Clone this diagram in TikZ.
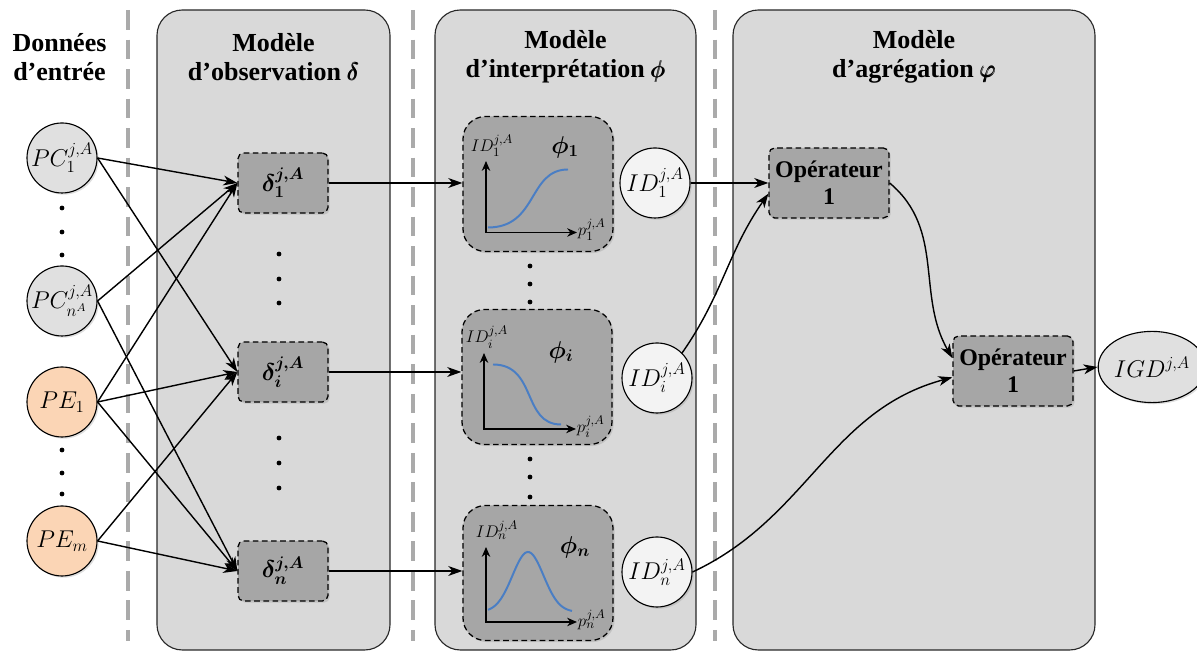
\documentclass[tikz,border=0pt]{standalone}
\usepackage{fontspec}
\setmainfont{Liberation Serif}
\usepackage{amsmath}
\usepackage{tikz}
\usetikzlibrary{shapes.geometric, arrows.meta, positioning, calc, shadows}
\definecolor{panelgray}{RGB}{217,217,217}
\definecolor{boxgray}{RGB}{166,166,166}
\definecolor{sepgray}{RGB}{170,170,170}
\definecolor{circgray}{RGB}{224,224,224}
\definecolor{idwhite}{RGB}{243,243,243}
\definecolor{peorange}{RGB}{251,213,181}
\definecolor{curveblue}{RGB}{74,126,196}
\definecolor{edgedark}{RGB}{40,40,40}
\newcommand{\bsym}[1]{$\pmb{#1}$}
\tikzset{
  panel/.style={draw=edgedark, fill=panelgray, rounded corners=18pt, line width=0.8pt},
  separator/.style={sepgray, line width=2.5pt, dash pattern=on 14pt off 7pt},
  titletext/.style={font=\fontsize{18.5}{20.6}\selectfont\bfseries, align=center},
  softshadow/.style={drop shadow={opacity=0.25, shadow xshift=1.2pt, shadow yshift=-1.2pt}},
  incirc/.style={circle, draw=black, fill=circgray, minimum size=1.75cm, inner sep=0pt,
    line width=0.8pt, font=\fontsize{16.5}{18}\selectfont, softshadow},
  pecirc/.style={incirc, fill=peorange},
  idcirc/.style={incirc, fill=idwhite},
  igdell/.style={ellipse, draw=black, fill=circgray, minimum width=2.15cm, minimum height=1.78cm,
    inner sep=0pt, line width=0.8pt, font=\fontsize{16.5}{18}\selectfont, softshadow},
  obsbox/.style={rectangle, draw=black, fill=boxgray, dash pattern=on 4pt off 2.5pt,
    rounded corners=4pt, minimum width=2.25cm, minimum height=1.5cm, line width=0.9pt,
    font=\fontsize{17}{20}\selectfont\boldmath, softshadow},
  interbox/.style={obsbox, minimum width=3.75cm, minimum height=3.375cm, rounded corners=16pt},
  opbox/.style={obsbox, minimum width=3cm, minimum height=1.75cm, align=center,
    font=\fontsize{17}{19}\selectfont\bfseries},
  smalllab/.style={font=\fontsize{13}{15}\selectfont, inner sep=0.5pt},
  philab/.style={font=\fontsize{18}{20}\selectfont\boldmath, inner sep=0pt},
  arrow/.style={-{Stealth[length=10pt, width=7pt, inset=3pt]}, line width=1pt, black},
  plotaxis/.style={{Stealth[length=7pt, width=6pt]}-{Stealth[length=7pt, width=6pt]}, line width=1.3pt},
  sigcurve/.style={curveblue, line width=1.4pt}
}
\begin{document}
\begin{tikzpicture}[x=0.25cm, y=0.25cm]
  \useasboundingbox (0,0) rectangle (119.7,65.3);
  % separators and panels
  \foreach \sx in {12.8, 41.3, 71.5}
    \draw[separator] (\sx,64.3) -- (\sx,1.2);
  \draw[panel] (15.7,0.3) rectangle (39.0,64.3);
  \draw[panel] (43.5,0.3) rectangle (69.6,64.3);
  \draw[panel] (73.3,0.3) rectangle (109.5,64.3);

  % titles
  \node[titletext] (tin) at (5.95,59.6) {Données\\d'entrée};
  \node[titletext] (tobs) at (27.35,59.6) {Modèle\\d'observation \bsym{\delta}};
  \node[titletext] (tint) at (56.55,59.6) {Modèle\\d'interprétation \bsym{\phi}};
  \node[titletext] (tagg) at (91.4,59.6) {Modèle\\d'agrégation \bsym{\varphi}};

  % input data
  \node[incirc] (pc1) at (6.2,49.5) {$PC_1^{j,A}$};
  \node[incirc] (pcn) at (6.2,35.2) {$PC_{n^A}^{j,A}$};
  \node[pecirc] (pe1) at (6.2,25.1) {$PE_1$};
  \node[pecirc] (pem) at (6.2,11.2) {$PE_m$};
  \foreach \dy in {44.5, 42.1, 39.8, 20.3, 18.0, 15.9}
    \fill (6.2,\dy) circle (1.7pt);

  % observation
  \node[obsbox] (d1) at (28.3,47.0) {$\delta_1^{j,A}$};
  \node[obsbox] (di) at (28.3,28.1) {$\delta_i^{j,A}$};
  \node[obsbox] (dn) at (28.3,8.2) {$\delta_n^{j,A}$};
  \foreach \dy in {39.9, 37.4, 35.0, 21.5, 19.0, 16.5}
    \fill (27.9,\dy) circle (1.7pt);

  % interpretation
  \node[interbox] (p1) at (53.8,46.9) {};
  \node[interbox] (pi) at (53.7,27.6) {};
  \node[interbox] (pn) at (53.8,8.0) {};
  \foreach \dy in {38.7, 36.9, 35.1, 19.4, 17.6, 15.6}
    \fill (53.0,\dy) circle (1.7pt);

  \begin{scope}[shift={(p1)}]
    \draw[plotaxis] (-5.2,2.3) -- (-5.2,-4.85) -- (3.9,-4.85);
    \draw[sigcurve] (-5.0,-4.35) .. controls (0,-4.35) and (-1,1.45) .. (3.0,1.45);
    \node[smalllab] (l1) at (-4.6,3.8) {$ID_1^{j,A}$};
    \node[smalllab, anchor=west] (q1) at (3.9,-4.6) {$p_1^{j,A}$};
    \node[philab] (f1) at (2.7,3.7) {$\phi_1$};
  \end{scope}
  \begin{scope}[shift={(pi)}]
    \draw[plotaxis] (-5.3,2.4) -- (-5.3,-5.2) -- (3.9,-5.2);
    \draw[sigcurve] (-4.4,1.25) .. controls (0,1.25) and (-1.5,-4.75) .. (2.4,-4.75);
    \node[smalllab] (li) at (-5.0,4.0) {$ID_i^{j,A}$};
    \node[smalllab, anchor=west] (qi) at (3.9,-4.95) {$p_i^{j,A}$};
    \node[philab] (fi) at (2.4,2.5) {$\phi_i$};
  \end{scope}
  \begin{scope}[shift={(pn)}]
    \draw[plotaxis] (-5.2,2.6) -- (-5.2,-4.9) -- (3.9,-4.9);
    \draw[sigcurve, domain=-5.0:3.4, samples=60]
      plot (\x, {-3.9+6*exp(-(\x+1)*(\x+1)/4.84)});
    \node[smalllab] (ln) at (-4.1,4.3) {$ID_n^{j,A}$};
    \node[smalllab, anchor=west] (qn) at (3.9,-4.65) {$p_n^{j,A}$};
    \node[philab] (fn) at (3.7,2.6) {$\phi_n$};
  \end{scope}

  \node[idcirc] (id1) at (65.5,47.0) {$ID_1^{j,A}$};
  \node[idcirc] (idi) at (65.7,27.5) {$ID_i^{j,A}$};
  \node[idcirc] (idn) at (65.7,8.1) {$ID_n^{j,A}$};

  % aggregation
  \node[opbox] (op1) at (82.9,47.0) {Opérateur\\1};
  \node[opbox] (op2) at (101.3,28.2) {Opérateur\\1};
  \node[igdell] (igd) at (115.2,28.6) {$IGD^{j,A}$};

  % connectors
  \foreach \src/\dst in {pc1/d1, pc1/di, pcn/d1, pcn/dn, pe1/d1, pe1/di, pe1/dn, pem/di, pem/dn}
    \draw[arrow] (\src.east) -- (\dst.west);
  \foreach \src/\dst in {d1/p1, di/pi, dn/pn}
    \draw[arrow] (\src.east) -- (\src.east -| \dst.west);
  \draw[arrow] (id1.east) -- (op1.west);
  \draw[arrow] (idi.45) to[out=55, in=235] (op1.190);
  \draw[arrow] (idn.east) to[out=25, in=195] (op2.186);
  \draw[arrow] (op1.east) to[out=-40, in=120] (op2.168);
  \draw[arrow] (op2.east) -- (igd.west);
\end{tikzpicture}
\end{document}
